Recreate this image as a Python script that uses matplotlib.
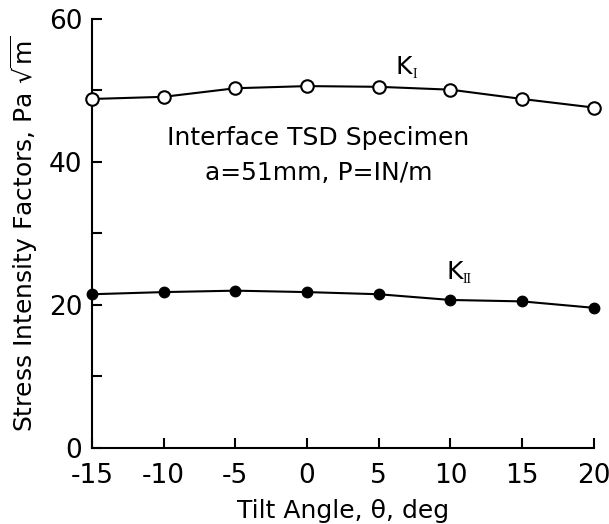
import matplotlib
matplotlib.use('Agg')
import matplotlib.pyplot as plt

# Tilt angle (deg)
tilt = [-15, -10, -5, 0, 5, 10, 15, 20]
# Stress intensity factors
k1 = [48.8, 49.1, 50.3, 50.6, 50.5, 50.1, 48.8, 47.6]
k2 = [21.5, 21.8, 22.0, 21.8, 21.5, 20.7, 20.5, 19.6]

xticks = [-15, -10, -5, 0, 5, 10, 15, 20]
yticks_major = [0, 20, 40, 60]
yticks_minor = [10, 30, 50]

plt.rcParams['mathtext.fontset'] = 'dejavusans'
plt.rcParams['axes.unicode_minus'] = False
fs_tick = 19
fs_lab = 18
serif = 'Liberation Serif'

fig = plt.figure(figsize=(6.09, 5.24), dpi=100)
ax = fig.add_axes([0.151, 0.145, 0.824, 0.819])

ax.plot(tilt, k1, color='black', linewidth=1.5, marker='o', markersize=9,
        markerfacecolor='white', markeredgecolor='black', markeredgewidth=1.5,
        clip_on=False, zorder=3)
ax.plot(tilt, k2, color='black', linewidth=1.5, marker='o', markersize=7.5,
        markerfacecolor='black', clip_on=False, zorder=3)

ax.set_xlim(-15, 20)
ax.set_ylim(0, 60)
ax.set_xticks(xticks)
ax.set_yticks(yticks_major)
ax.set_yticks(yticks_minor, minor=True)
ax.tick_params(axis='both', which='both', direction='in', width=1.5, length=7,
               labelsize=fs_tick)
ax.tick_params(axis='x', pad=11)
ax.tick_params(axis='y', pad=7)
ax.spines['top'].set_visible(False)
ax.spines['right'].set_visible(False)
ax.spines['left'].set_linewidth(1.5)
ax.spines['bottom'].set_linewidth(1.5)

ax.set_xlabel('Tilt Angle, θ, deg', fontsize=fs_lab, labelpad=7)
ax.set_ylabel(r'Stress Intensity Factors, Pa $\sqrt{\rm m}$', fontsize=fs_lab, labelpad=6)

# curve labels: K with a small serif roman subscript
ax.text(6.2, 53.3, 'K', fontsize=fs_lab, ha='left', va='center')
ax.text(7.35, 52.2, 'I', fontsize=10, family=serif, ha='left', va='center')
ax.text(9.7, 24.6, 'K', fontsize=fs_lab, ha='left', va='center')
ax.text(10.85, 23.5, 'II', fontsize=10, family=serif, ha='left', va='center')

ax.text(0.8, 43.4, 'Interface TSD Specimen', fontsize=fs_lab, ha='center', va='center')
ax.text(0.8, 38.5, 'a=51mm, P=IN/m', fontsize=fs_lab, ha='center', va='center')

fig.savefig('out.png', dpi=100)
